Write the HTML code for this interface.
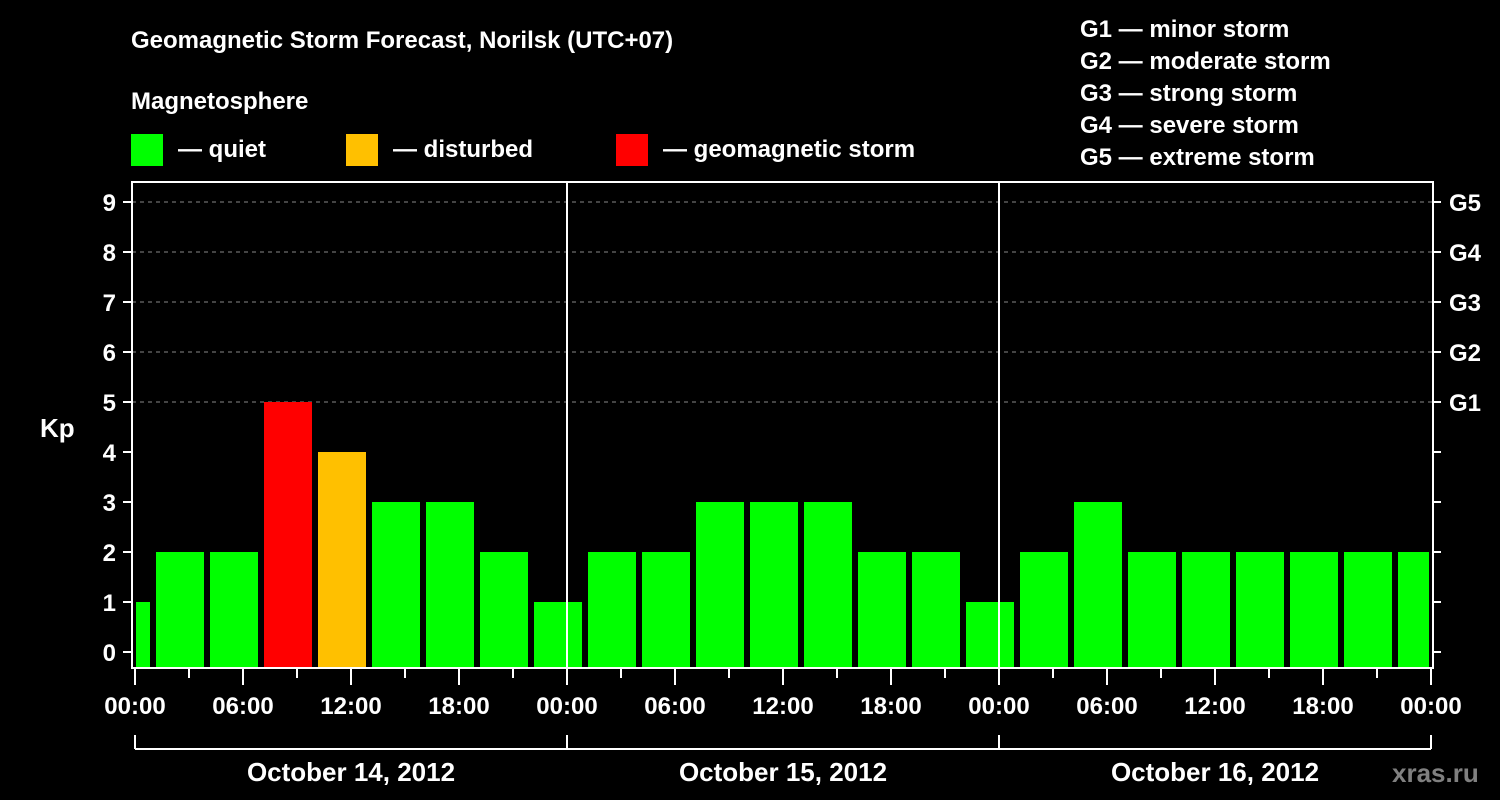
<!DOCTYPE html>
<html><head><meta charset="utf-8"><style>
body{margin:0;background:#000;width:1500px;height:800px;overflow:hidden}
svg{display:block;font-family:"Liberation Sans",Arial,sans-serif;font-weight:bold}
</style></head><body>
<svg id="chart" width="1500" height="800">
<text x="131" y="48" fill="#fff" font-size="24">Geomagnetic Storm Forecast, Norilsk (UTC+07)</text>
<text x="131" y="109" fill="#fff" font-size="24">Magnetosphere</text>
<g><rect x="131" y="134" width="32" height="32" fill="#00ff00"/><text x="178" y="157" fill="#fff" font-size="24">— quiet</text></g>
<g><rect x="346" y="134" width="32" height="32" fill="#ffc000"/><text x="393" y="157" fill="#fff" font-size="24">— disturbed</text></g>
<g><rect x="616" y="134" width="32" height="32" fill="#ff0000"/><text x="663" y="157" fill="#fff" font-size="24">— geomagnetic storm</text></g>
<g fill="#fff" font-size="24">
<text x="1080" y="37">G1 — minor storm</text><text x="1080" y="69">G2 — moderate storm</text><text x="1080" y="101">G3 — strong storm</text><text x="1080" y="133">G4 — severe storm</text><text x="1080" y="165">G5 — extreme storm</text></g>
<text x="40" y="437" fill="#fff" font-size="26">Kp</text>
<text x="1392" y="782" fill="#808080" font-size="26">xras.ru</text>
<g id="marks"></g>
</svg>
<script>
const kpValues=[1,2,2,5,4,3,3,2,1,2,2,3,3,3,2,2,1,2,3,2,2,2,2,2,2];
const yTicks=[0,1,2,3,4,5,6,7,8,9];
const gLabels=["G1","G2","G3","G4","G5"];
const hourLabels=["00:00","06:00","12:00","18:00"];
const dayLabels=["October 14, 2012","October 15, 2012","October 16, 2012"];
const firstSlotHour=-2, slotHours=3, totalHours=72;
const X0=135, PXH=18, Y0=652, PXK=50, LEFT=132, RIGHT=1433, TOP=182, BOT=668;
const xs=h=>X0+h*PXH, ys=k=>Y0-k*PXK;
const NS="http://www.w3.org/2000/svg";
const g=document.getElementById('marks');
function el(t,a){const e=document.createElementNS(NS,t);for(const k in a)e.setAttribute(k,a[k]);g.appendChild(e);return e;}
// grid
yTicks.forEach(k=>{if(k>=5){const l=el('line',{x1:LEFT,x2:RIGHT,y1:ys(k),y2:ys(k),stroke:'#888','stroke-dasharray':'4,4'});

}});
// bars
kpValues.forEach((v,i)=>{const s=firstSlotHour+i*slotHours;let x1=xs(s)+3,x2=xs(s)+51;x1=Math.max(x1,LEFT+4);x2=Math.min(x2,RIGHT-4);
const c=v>=5?'#ff0000':(v>=4?'#ffc000':'#00ff00');
const r=el('rect',{x:x1,y:ys(v),width:x2-x1,height:BOT-ys(v),fill:c});

});
// day separators
[24,48].forEach(h=>{const l=el('line',{x1:xs(h),x2:xs(h),y1:TOP,y2:BOT,stroke:'#fff','stroke-width':2});

});
// frame
const f=el('rect',{x:LEFT,y:TOP,width:RIGHT-LEFT,height:BOT-TOP,fill:'none',stroke:'#fff','stroke-width':2});


// y ticks
yTicks.forEach(k=>{el('line',{x1:123,x2:LEFT,y1:ys(k),y2:ys(k),stroke:'#fff','stroke-width':2});
el('line',{x1:RIGHT,x2:1441,y1:ys(k),y2:ys(k),stroke:'#fff','stroke-width':2});
const t=el('text',{x:116,y:ys(k)+9,fill:'#fff','font-size':24,'text-anchor':'end'});t.textContent=k;

});
gLabels.forEach((s,i)=>{const t=el('text',{x:1449,y:ys(5+i)+9,fill:'#fff','font-size':24});t.textContent=s;

});
// x ticks
for(let h=0;h<=totalHours;h+=3){const major=h%6===0;el('line',{x1:xs(h),x2:xs(h),y1:BOT,y2:major?685:678,stroke:'#fff','stroke-width':2});
if(major){const t=el('text',{x:xs(h),y:714,fill:'#fff','font-size':24,'text-anchor':'middle'});t.textContent=hourLabels[(h/6)%4];

}}
// day bracket
el('line',{x1:xs(0),x2:xs(72),y1:749,y2:749,stroke:'#fff','stroke-width':2});
[0,24,48,72].forEach(h=>el('line',{x1:xs(h),x2:xs(h),y1:735,y2:749,stroke:'#fff','stroke-width':2}));
dayLabels.forEach((d,i)=>{const t=el('text',{x:xs(i*24+12),y:781,fill:'#fff','font-size':26,'text-anchor':'middle'});t.textContent=d;

});
</script>
</body></html>
